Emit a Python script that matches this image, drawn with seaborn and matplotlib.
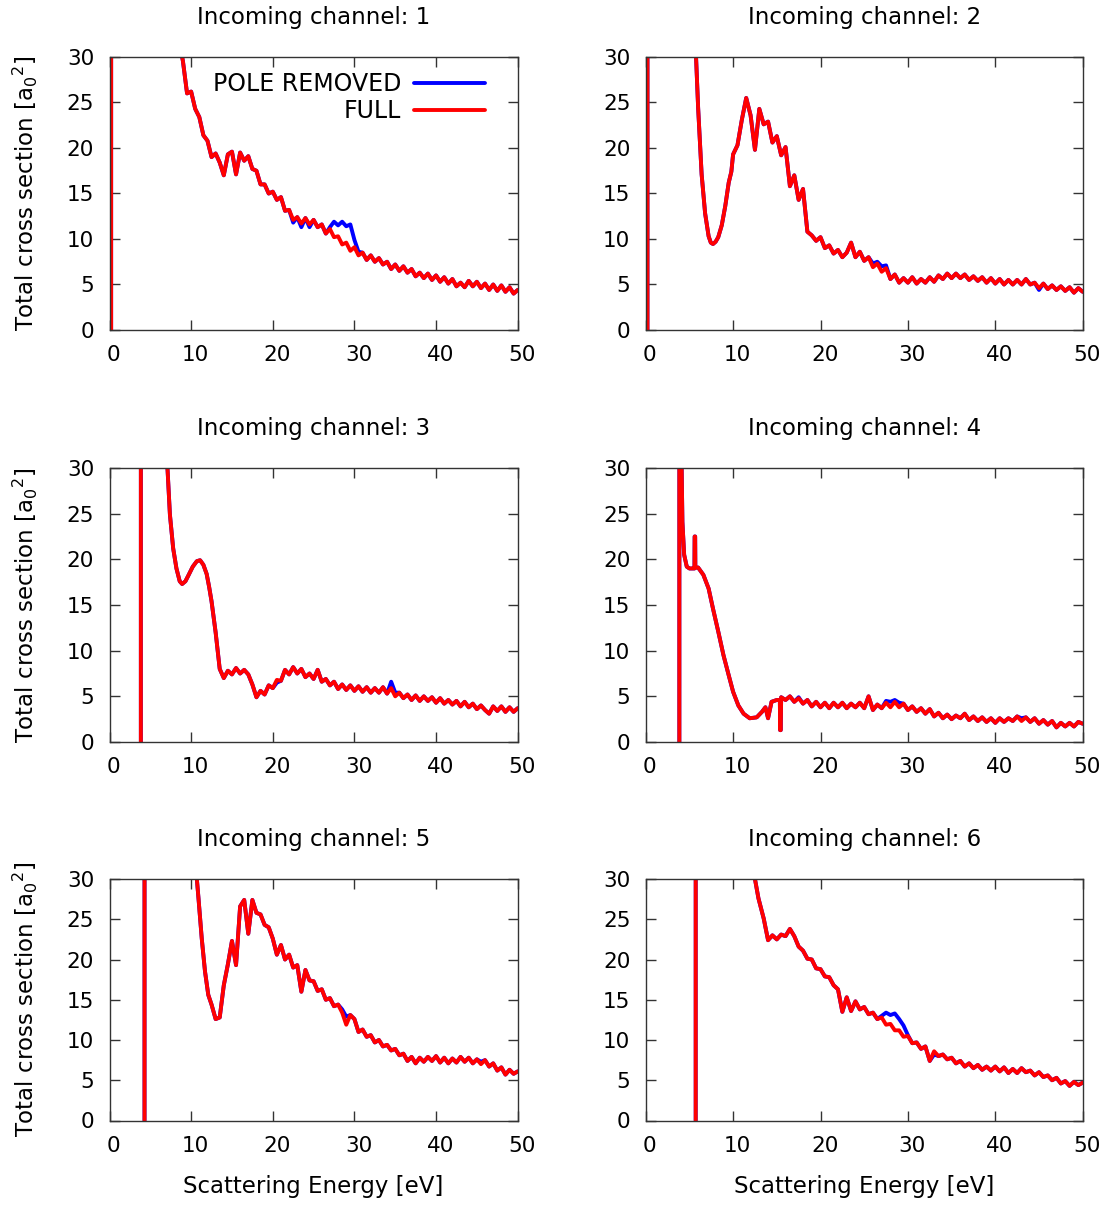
import numpy as np
import pandas as pd
import matplotlib
matplotlib.use("Agg")
import matplotlib.pyplot as plt
import matplotlib.transforms as mtransforms
import seaborn as sns

# ---------------------------------------------------------------------------
# Total cross sections [a0^2] versus scattering energy [eV] for six incoming
# channels.  Each channel has a steep threshold part (explicit energies) and
# a FULL tail tabulated on a 0.5 eV grid.  The POLE REMOVED result coincides
# with FULL except at the energies listed in chN_pole_e / chN_pole_v.
# ---------------------------------------------------------------------------
channels = [1, 2, 3, 4, 5, 6]
series_names = ["POLE REMOVED", "FULL"]

# --- channel 1 ---
ch1_head_e = [0.2, 0.22, 2.0, 5.0, 7.5, 8.5]
ch1_head_v = [0, 400, 150, 60, 38, 32]
ch1_full_start = 9.0
ch1_full = [29.5, 26.0, 26.2, 24.3, 23.4, 21.4, 20.8, 19.0, 19.4, 18.4,
            17.0, 19.3, 19.6, 17.1, 19.5, 18.6, 19.1, 17.7, 17.5, 16.0,
            16.0, 15.0, 15.2, 14.3, 14.6, 13.1, 13.2, 12.1, 12.4, 11.7,
            12.3, 11.6, 12.1, 11.3, 11.6, 10.6, 11.1, 10.2, 10.3, 9.4,
            9.6, 8.7, 9.1, 8.2, 8.5, 7.7, 8.2, 7.5, 7.9, 7.2,
            7.5, 6.7, 7.2, 6.5, 7.0, 6.3, 6.7, 5.9, 6.3, 5.7,
            6.2, 5.5, 6.0, 5.3, 5.8, 5.1, 5.6, 4.8, 5.2, 4.7,
            5.4, 4.8, 5.3, 4.6, 5.1, 4.4, 5.0, 4.3, 4.9, 4.2,
            4.7, 4.0, 4.4]
ch1_pole_e = [22.5, 23.5, 24.5, 27.0, 27.5, 28.0, 28.5, 29.0, 29.5, 30.0, 30.5]
ch1_pole_v = [11.8, 11.3, 11.3, 11.3, 11.9, 11.5, 11.9, 11.4, 11.6, 9.9, 8.6]

# --- channel 2 ---
ch2_head_e = [0.2, 0.22, 2.0, 4.0, 5.5, 5.76, 6.0, 6.4, 6.8, 7.2,
              7.45, 7.7, 8.0, 8.3, 8.7, 9.1, 9.5, 9.8]
ch2_head_v = [0, 400, 150, 60, 33, 30, 24.4, 17.1, 12.8, 10.3,
              9.6, 9.45, 9.7, 10.2, 11.5, 13.6, 16.2, 17.4]
ch2_full_start = 10.0
ch2_full = [19.3, 20.3, 23.1, 25.5, 23.6, 19.8, 24.3, 22.6, 22.9, 20.6,
            21.3, 19.2, 20.1, 15.8, 17.0, 14.3, 15.5, 10.8, 10.4, 9.8,
            10.2, 9.0, 9.3, 8.4, 8.8, 8.0, 8.5, 9.6, 8.0, 8.6,
            7.6, 8.0, 6.9, 7.3, 6.4, 6.8, 5.6, 6.1, 5.2, 5.7,
            5.2, 5.8, 5.1, 5.6, 5.2, 5.8, 5.3, 6.0, 5.6, 6.2,
            5.7, 6.2, 5.7, 6.1, 5.5, 5.9, 5.4, 5.8, 5.2, 5.7,
            5.1, 5.6, 5.0, 5.5, 5.0, 5.5, 5.0, 5.6, 5.0, 5.2,
            4.6, 5.1, 4.5, 4.9, 4.4, 4.8, 4.3, 4.7, 4.1, 4.6,
            4.2]
ch2_pole_e = [26.0, 26.5, 27.0, 27.5, 45.0]
ch2_pole_v = [7.3, 7.5, 7.0, 7.1, 4.4]

# --- channel 3 ---
ch3_head_e = [3.84, 3.86, 5.0, 6.0, 6.8, 7.1, 7.4, 7.8, 8.2, 8.6,
              8.9, 9.3, 9.7, 10.2, 10.7, 11.1, 11.5, 11.9, 12.2]
ch3_head_v = [0, 400, 120, 55, 34, 30, 24.9, 21.2, 19.0, 17.6,
              17.3, 17.6, 18.3, 19.2, 19.8, 19.9, 19.4, 18.4, 17.0]
ch3_full_start = 12.5
ch3_full = [15.4, 12.0, 8.0, 7.0, 7.8, 7.4, 8.1, 7.5, 7.9, 7.4,
            6.3, 4.9, 5.6, 5.2, 6.2, 5.9, 6.8, 6.7, 7.9, 7.4,
            8.2, 7.5, 8.0, 7.1, 7.5, 6.9, 7.9, 6.6, 6.9, 6.2,
            6.6, 5.8, 6.3, 5.7, 6.2, 5.6, 6.1, 5.5, 6.0, 5.4,
            5.9, 5.4, 6.0, 5.3, 5.9, 5.0, 5.4, 4.8, 5.2, 4.6,
            5.1, 4.5, 5.0, 4.5, 4.9, 4.3, 4.8, 4.2, 4.6, 4.1,
            4.5, 3.9, 4.4, 3.8, 4.2, 3.6, 4.0, 3.5, 3.1, 3.9,
            3.4, 3.9, 3.3, 3.8, 3.3, 3.7]
ch3_pole_e = [20.5, 34.5, 35.0]
ch3_pole_v = [6.5, 6.6, 5.4]

# --- channel 4 ---
ch4_head_e = [3.85, 3.87, 3.95, 4.05, 4.1, 4.2, 4.4, 4.7, 5.0, 5.3,
              5.58, 5.6, 5.66, 5.68, 6.0, 6.6, 7.2, 7.7, 8.3, 8.9,
              9.5, 10.0, 10.6, 11.2, 11.9, 12.7, 13.3, 13.7, 14.0, 14.4,
              15.0, 15.35, 15.38, 15.45, 15.5]
ch4_head_v = [0, 300, 80, 40, 31, 24.1, 20.5, 19.2, 19.0, 19.0,
              19.0, 22.5, 22.5, 19.1, 19.1, 18.3, 16.8, 14.6, 12.1, 9.5,
              7.3, 5.5, 4.0, 3.1, 2.6, 2.7, 3.3, 3.8, 2.6, 4.4,
              4.6, 4.6, 1.3, 1.3, 4.9]
ch4_full_start = 16.0
ch4_full = [4.6, 5.0, 4.4, 4.8, 4.2, 4.6, 3.9, 4.4, 3.8, 4.3,
            3.7, 4.3, 3.8, 4.3, 3.7, 4.2, 3.8, 4.3, 3.7, 5.0,
            3.5, 4.1, 3.7, 4.3, 3.8, 4.4, 3.8, 4.2, 3.5, 3.9,
            3.3, 3.7, 3.1, 3.6, 2.8, 3.2, 2.6, 3.0, 2.5, 2.9,
            2.6, 3.1, 2.4, 2.8, 2.3, 2.7, 2.2, 2.6, 2.1, 2.6,
            2.2, 2.6, 2.3, 2.8, 2.3, 2.7, 2.2, 2.6, 2.0, 2.4,
            1.9, 2.3, 1.6, 2.1, 1.7, 2.1, 1.7, 2.2, 2.0]
ch4_pole_e = [17.5, 27.5, 28.0, 28.5, 29.0, 43.0]
ch4_pole_v = [4.9, 4.5, 4.4, 4.6, 4.3, 2.6]

# --- channel 5 ---
ch5_head_e = [4.29, 4.31, 6.0, 8.0, 9.5, 10.3, 10.7, 10.9, 11.3, 11.7, 12.1]
ch5_head_v = [0, 400, 150, 70, 40, 32, 30, 27.6, 22.6, 18.5, 15.6]
ch5_full_start = 12.5
ch5_full = [14.4, 12.6, 12.8, 16.8, 19.4, 22.3, 19.3, 26.6, 27.4, 23.2,
            27.4, 25.8, 25.6, 24.3, 24.0, 22.6, 20.6, 21.8, 20.0, 20.6,
            19.0, 19.3, 16.0, 18.7, 17.4, 17.3, 16.1, 16.3, 15.0, 15.2,
            14.2, 14.4, 13.4, 11.9, 13.1, 12.6, 11.0, 11.3, 10.4, 10.6,
            9.7, 10.0, 9.2, 9.4, 8.7, 8.9, 8.1, 8.3, 7.4, 7.9,
            7.1, 7.8, 7.3, 7.9, 7.4, 8.0, 7.2, 7.8, 7.1, 7.7,
            7.2, 7.9, 7.3, 7.8, 7.1, 7.6, 7.0, 7.5, 6.7, 7.1,
            6.2, 6.6, 5.7, 6.3, 5.8, 6.1]
ch5_pole_e = [28.5, 29.0, 45.5]
ch5_pole_v = [13.8, 12.9, 7.3]

# --- channel 6 ---
ch6_head_e = [5.72, 5.74, 8.0, 10.0, 11.5, 12.2, 12.5, 12.9, 13.5]
ch6_head_v = [0, 400, 120, 60, 38, 32, 30, 27.6, 25.1]
ch6_full_start = 14.0
ch6_full = [22.4, 23.0, 22.5, 23.1, 22.9, 23.8, 22.9, 21.6, 21.1, 20.1,
            20.0, 18.9, 18.8, 17.9, 17.8, 16.8, 16.3, 13.5, 15.3, 13.6,
            14.8, 13.8, 14.1, 13.2, 13.4, 12.6, 12.8, 11.9, 12.0, 11.2,
            11.2, 10.4, 10.5, 9.6, 9.7, 8.9, 9.2, 7.4, 8.6, 8.0,
            8.2, 7.6, 7.8, 7.1, 7.4, 6.7, 7.1, 6.5, 6.9, 6.3,
            6.7, 6.2, 6.7, 6.1, 6.6, 5.9, 6.4, 5.9, 6.5, 6.0,
            6.2, 5.6, 6.0, 5.4, 5.6, 5.0, 5.3, 4.6, 4.9, 4.3,
            4.8, 4.4, 4.7]
ch6_pole_e = [27.0, 27.5, 28.0, 28.5, 29.0, 29.5, 30.0, 33.0]
ch6_pole_v = [13.0, 13.4, 13.1, 13.3, 12.6, 11.8, 10.6, 8.2]

channel_data = {
    1: (ch1_head_e, ch1_head_v, ch1_full_start, ch1_full, ch1_pole_e, ch1_pole_v),
    2: (ch2_head_e, ch2_head_v, ch2_full_start, ch2_full, ch2_pole_e, ch2_pole_v),
    3: (ch3_head_e, ch3_head_v, ch3_full_start, ch3_full, ch3_pole_e, ch3_pole_v),
    4: (ch4_head_e, ch4_head_v, ch4_full_start, ch4_full, ch4_pole_e, ch4_pole_v),
    5: (ch5_head_e, ch5_head_v, ch5_full_start, ch5_full, ch5_pole_e, ch5_pole_v),
    6: (ch6_head_e, ch6_head_v, ch6_full_start, ch6_full, ch6_pole_e, ch6_pole_v),
}

x_ticks = [0, 10, 20, 30, 40, 50]
y_ticks = [0, 5, 10, 15, 20, 25, 30]


def channel_frame(ch):
    head_e, head_v, f0, full, pole_e, pole_v = channel_data[ch]
    tail_e = f0 + 0.5 * np.arange(len(full))
    full_tail = np.asarray(full, dtype=float)
    pole_tail = full_tail.copy()
    for e, v in zip(pole_e, pole_v):
        pole_tail[np.isclose(tail_e, e)] = v
    e_all = np.concatenate([head_e, tail_e])
    rows = []
    for name, v_tail in (("POLE REMOVED", pole_tail), ("FULL", full_tail)):
        v_all = np.concatenate([head_v, v_tail])
        rows.append(pd.DataFrame({"energy": e_all, "sigma": v_all, "series": name}))
    return pd.concat(rows, ignore_index=True)


# ---------------------------------------------------------------------------
sns.set_theme(style="ticks")
plt.rcParams["font.family"] = ["DejaVu Sans"]
plt.rcParams["mathtext.fontset"] = "dejavusans"
plt.rcParams["text.color"] = "black"
plt.rcParams["axes.labelcolor"] = "black"

palette = {"POLE REMOVED": "#0000ff", "FULL": "#ff0000"}
line_w = 2.8

W, H = 1112, 1207
fig = plt.figure(figsize=(W / 100, H / 100), dpi=100)

col_x = [(109.5, 517.7), (645.7, 1082.7)]
row_y = [(57, 330), (468, 742), (879, 1120.5)]

label_fs = 16.5
tick_fs = 15.5

for idx, ch in enumerate(channels):
    r, c = divmod(idx, 2)
    x0, x1 = col_x[c]
    yt, yb = row_y[r]
    ax = fig.add_axes([x0 / W, 1 - yb / H, (x1 - x0) / W, (yb - yt) / H])

    df = channel_frame(ch)
    sns.lineplot(data=df, x="energy", y="sigma", hue="series",
                 hue_order=series_names, palette=palette, sort=False,
                 estimator=None, linewidth=line_w, ax=ax, legend=False)

    ax.set_xlim(0, 50)
    ax.set_ylim(0, 30)
    ax.set_xticks(x_ticks)
    ax.set_yticks(y_ticks)
    ax.tick_params(direction="in", length=7, width=1.0, color="#333333",
                   top=True, right=True, labelsize=tick_fs, pad=11,
                   labelcolor="black")
    for s in ax.spines.values():
        s.set_color("#333333")
        s.set_linewidth(1.0)
        s.set_visible(True)

    ax.set_title(f"Incoming channel: {ch}", fontsize=label_fs, pad=24,
                 color="black")
    ax.set_xlabel("")
    ax.set_ylabel("")
    if c == 0:
        ax.set_ylabel(r"Total cross section [a$_0$$^2$]", fontsize=label_fs)
        ax.yaxis.set_label_coords(-0.17, 0.5)
    if r == 2:
        ax.set_xlabel("Scattering Energy [eV]", fontsize=label_fs)
        ax.xaxis.set_label_coords(0.5, -0.225)

    # shift x tick labels slightly to the right
    offset = mtransforms.ScaledTranslation(3 / 72, 0, fig.dpi_scale_trans)
    for lab in ax.get_xticklabels():
        lab.set_transform(lab.get_transform() + offset)

    if ch == 1:
        handles = [plt.Line2D([], [], color=palette[n], lw=line_w) for n in series_names]
        ax.legend(handles, series_names, loc="upper right",
                  bbox_to_anchor=(0.943, 0.978), frameon=False,
                  markerfirst=False, handlelength=3.0, handletextpad=0.55,
                  labelspacing=0.1, fontsize=17, borderaxespad=0.0)

fig.savefig("out.png", dpi=100)
